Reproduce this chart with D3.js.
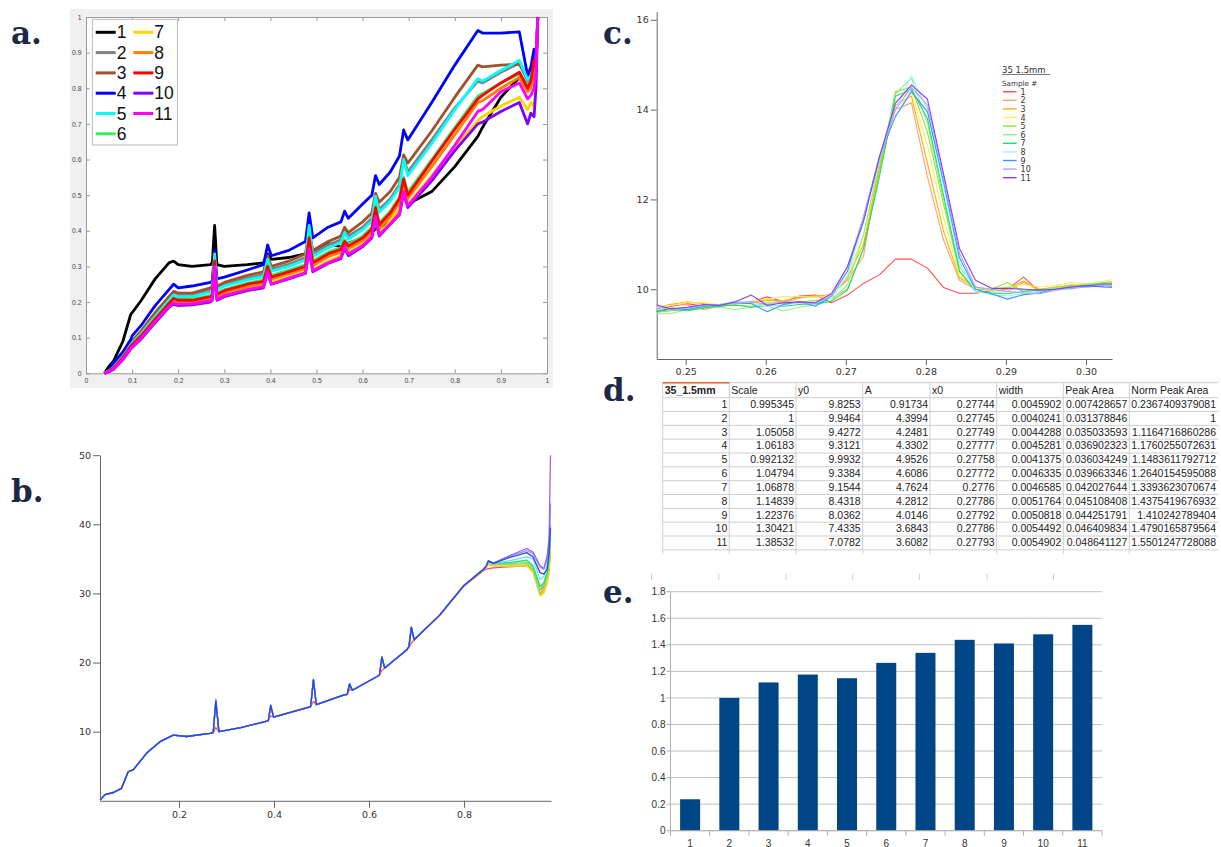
<!DOCTYPE html>
<html><head><meta charset="utf-8">
<script src="https://cdn.jsdelivr.net/npm/d3@7"></script>
<style>body{margin:0;background:#fff}svg{display:block}</style>
</head><body><svg id="chart" width="1221" height="847"></svg>
<script>
// ================= DATA =================
const sampleIds = [1,2,3,4,5,6,7,8,9,10,11];

// ---- panel a: normalised spectra (x grid shared) ----
const xA = [0.04,0.05,0.06,0.08,0.097,0.10,0.12,0.15,0.18,0.19,0.20,0.23,0.27,0.274,0.279,0.284,0.30,0.35,0.385,0.394,0.402,0.44,0.476,0.484,0.492,0.525,0.553,0.561,0.569,0.60,0.62,0.628,0.636,0.66,0.68,0.689,0.698,0.75,0.80,0.85,0.86,0.90,0.94,0.958,0.965,0.972,0.976,0.98];
const a1  = [0,0.02,0.035,0.09,0.165,0.17,0.205,0.265,0.31,0.315,0.305,0.30,0.305,0.31,0.415,0.305,0.30,0.305,0.31,0.335,0.32,0.325,0.335,0.345,0.34,0.365,0.355,0.36,0.365,0.38,0.395,0.405,0.41,0.425,0.45,0.52,0.475,0.51,0.58,0.665,0.69,0.775,0.83,0.80,0.82,0.85,0.88,0.98];
const a2  = [0,0.007,0.018,0.048,0.082,0.087,0.115,0.165,0.208,0.222,0.218,0.218,0.232,0.237,0.332,0.238,0.248,0.267,0.277,0.325,0.292,0.306,0.325,0.405,0.336,0.36,0.375,0.40,0.385,0.41,0.435,0.50,0.46,0.49,0.53,0.605,0.565,0.655,0.745,0.82,0.815,0.845,0.87,0.82,0.84,0.86,0.88,1.0];
const a3  = [0,0.008,0.02,0.05,0.085,0.09,0.12,0.17,0.215,0.23,0.225,0.225,0.24,0.245,0.33,0.245,0.255,0.275,0.285,0.33,0.30,0.315,0.335,0.40,0.345,0.37,0.385,0.41,0.395,0.425,0.45,0.505,0.48,0.51,0.55,0.613,0.59,0.68,0.775,0.865,0.86,0.865,0.868,0.83,0.84,0.87,0.88,1.0];
const a4  = [0,0.01,0.03,0.06,0.095,0.105,0.135,0.19,0.235,0.25,0.24,0.245,0.255,0.26,0.345,0.265,0.27,0.29,0.305,0.36,0.33,0.345,0.37,0.45,0.38,0.41,0.425,0.455,0.435,0.475,0.50,0.555,0.53,0.565,0.61,0.683,0.655,0.76,0.865,0.962,0.955,0.955,0.958,0.835,0.86,0.91,0.85,1.0];
const a5  = [0,0.007,0.017,0.047,0.08,0.085,0.112,0.16,0.205,0.22,0.215,0.215,0.228,0.232,0.335,0.235,0.245,0.262,0.272,0.32,0.287,0.30,0.318,0.415,0.328,0.352,0.367,0.395,0.377,0.403,0.427,0.497,0.452,0.483,0.522,0.60,0.555,0.645,0.74,0.827,0.82,0.85,0.878,0.825,0.835,0.86,0.875,1.0];
const a6  = [0,0.006,0.016,0.045,0.077,0.082,0.108,0.155,0.198,0.212,0.208,0.208,0.218,0.222,0.32,0.225,0.235,0.253,0.262,0.305,0.275,0.29,0.305,0.385,0.315,0.34,0.352,0.375,0.362,0.385,0.41,0.47,0.422,0.455,0.495,0.55,0.508,0.60,0.69,0.778,0.785,0.815,0.84,0.81,0.82,0.85,0.87,1.0];
const a7  = [0,0.004,0.012,0.04,0.071,0.075,0.10,0.145,0.188,0.20,0.196,0.196,0.205,0.21,0.30,0.212,0.22,0.238,0.245,0.29,0.255,0.27,0.285,0.355,0.29,0.315,0.33,0.355,0.34,0.362,0.388,0.44,0.39,0.428,0.46,0.515,0.475,0.555,0.635,0.71,0.72,0.75,0.775,0.74,0.76,0.75,0.80,1.0];
const a8  = [0,0.005,0.014,0.042,0.074,0.078,0.103,0.148,0.192,0.205,0.20,0.20,0.21,0.215,0.31,0.217,0.226,0.244,0.252,0.295,0.264,0.279,0.294,0.37,0.302,0.327,0.34,0.362,0.35,0.372,0.398,0.455,0.405,0.44,0.478,0.535,0.49,0.58,0.67,0.76,0.765,0.80,0.83,0.79,0.80,0.84,0.86,1.0];
const a9  = [0,0.006,0.015,0.044,0.076,0.08,0.106,0.152,0.196,0.21,0.205,0.205,0.215,0.22,0.315,0.222,0.232,0.25,0.258,0.30,0.27,0.285,0.30,0.38,0.31,0.335,0.348,0.37,0.357,0.38,0.405,0.465,0.417,0.45,0.49,0.545,0.50,0.595,0.685,0.77,0.78,0.815,0.845,0.80,0.82,0.88,0.86,1.0];
const a10 = [0,0.004,0.011,0.038,0.068,0.072,0.097,0.142,0.185,0.195,0.19,0.192,0.20,0.205,0.295,0.205,0.215,0.232,0.24,0.282,0.25,0.265,0.28,0.345,0.285,0.308,0.322,0.35,0.33,0.355,0.38,0.435,0.385,0.418,0.445,0.505,0.465,0.54,0.625,0.70,0.705,0.735,0.76,0.70,0.73,0.72,0.80,1.0];
const a11 = [0,0.005,0.012,0.04,0.07,0.074,0.10,0.145,0.188,0.197,0.194,0.195,0.203,0.207,0.30,0.208,0.218,0.235,0.243,0.285,0.25,0.267,0.282,0.35,0.288,0.31,0.325,0.355,0.335,0.358,0.384,0.44,0.388,0.42,0.448,0.51,0.47,0.55,0.64,0.735,0.74,0.79,0.815,0.77,0.78,0.80,0.84,1.0];
const ticksA = [0,0.1,0.2,0.3,0.4,0.5,0.6,0.7,0.8,0.9,1];
const colorsA = ['#000000','#808080','#a0522d','#0000ff','#00ffff','#33ee66','#ffd700','#ff8000','#ff0000','#7f00ff','#ff00ff'];

// ---- panel b: raw spectra ----
const xB = [0.034,0.044,0.062,0.079,0.093,0.104,0.132,0.16,0.188,0.216,0.265,0.272,0.2775,0.284,0.33,0.381,0.388,0.393,0.399,0.469,0.477,0.483,0.489,0.546,0.554,0.559,0.565,0.616,0.622,0.627,0.633,0.679,0.684,0.689,0.695,0.749,0.799,0.841,0.847,0.851,0.862,0.90,0.932,0.945,0.96,0.968,0.975,0.979,0.982];
const b1  = [0.1,0.9,1.2,1.8,4.2,4.5,6.9,8.55,9.5,9.3,9.75,9.85,10.6,10.0,10.6,11.45,11.6,12.3,12.1,13.5,13.6,14.4,13.9,15.3,15.4,16.1,16.0,17.95,18.2,18.9,19.2,21.8,22.2,22.8,23.3,26.8,31.0,33.3,33.5,33.6,33.7,33.9,34.0,33.5,30.5,31.0,32.5,34.0,37.0];
const b2  = [0.1,0.9,1.2,1.8,4.2,4.5,6.9,8.55,9.5,9.3,9.75,9.85,14.15,10.0,10.6,11.45,11.6,13.6,12.1,13.45,13.6,17.2,13.9,15.3,15.4,16.7,16.0,17.95,18.2,20.6,19.2,21.8,22.3,24.8,23.3,26.9,31.1,33.4,33.7,34.2,34.0,33.9,34.0,33.3,30.0,30.5,32.0,33.5,36.0];
const b3  = [0.1,0.9,1.2,1.8,4.2,4.5,6.9,8.55,9.5,9.3,9.75,9.85,14.3,10.0,10.6,11.45,11.6,13.7,12.1,13.45,13.6,17.3,13.9,15.3,15.4,16.8,16.0,17.95,18.2,20.7,19.2,21.8,22.3,24.9,23.3,26.9,31.1,33.4,33.8,34.3,34.1,34.0,34.1,33.2,29.8,30.2,31.5,33.0,36.5];
const b4  = [0.1,0.9,1.2,1.8,4.2,4.5,6.9,8.55,9.5,9.3,9.75,9.85,14.4,10.0,10.6,11.45,11.6,13.7,12.1,13.45,13.6,17.4,13.9,15.3,15.4,16.8,16.0,17.95,18.2,20.7,19.2,21.8,22.3,25.0,23.3,26.9,31.1,33.5,33.9,34.4,34.1,34.0,34.0,33.0,29.6,30.0,31.5,34.0,38.0];
const b5  = [0.1,0.9,1.2,1.8,4.2,4.5,6.9,8.55,9.5,9.3,9.75,9.85,14.5,10.0,10.6,11.45,11.6,13.8,12.1,13.45,13.6,17.5,13.9,15.3,15.4,16.9,16.0,17.95,18.2,20.8,19.2,21.8,22.3,25.1,23.3,26.9,31.1,33.5,33.9,34.5,34.2,34.2,34.3,33.5,30.0,30.8,32.5,35.0,38.0];
const b6  = [0.1,0.9,1.2,1.8,4.2,4.5,6.9,8.55,9.5,9.3,9.75,9.85,14.7,10.0,10.6,11.45,11.6,13.8,12.1,13.45,13.6,17.6,13.9,15.3,15.4,16.9,16.0,17.95,18.2,20.9,19.2,21.8,22.3,25.2,23.3,26.9,31.1,33.5,34.0,34.6,34.3,34.3,34.5,33.8,30.5,31.5,33.0,35.0,39.0];
const b7  = [0.1,0.9,1.2,1.8,4.2,4.5,6.9,8.55,9.5,9.3,9.75,9.85,14.45,10.0,10.6,11.45,11.6,13.8,12.1,13.45,13.6,17.5,13.9,15.3,15.4,16.9,16.0,17.95,18.2,20.8,19.2,21.8,22.3,25.1,23.3,26.9,31.1,33.5,34.0,34.6,34.3,34.5,34.8,34.0,31.0,31.5,33.0,35.0,40.0];
const b8  = [0.1,0.9,1.2,1.8,4.2,4.5,6.9,8.55,9.5,9.3,9.75,9.85,14.75,10.0,10.6,11.45,11.6,13.9,12.1,13.45,13.6,17.6,13.9,15.3,15.4,17.0,16.0,17.95,18.2,20.9,19.2,21.8,22.3,25.2,23.3,26.9,31.1,33.5,34.0,34.7,34.3,34.8,35.3,35.0,32.0,32.5,34.0,37.0,42.0];
const b9  = [0.1,0.9,1.2,1.8,4.2,4.5,6.9,8.55,9.5,9.3,9.75,9.85,14.4,10.0,10.6,11.45,11.6,13.8,12.1,13.47,13.6,17.5,13.9,15.3,15.4,16.9,16.0,17.95,18.2,20.8,19.2,21.8,22.3,25.1,23.3,26.9,31.1,33.5,34.0,34.7,34.35,35.3,35.9,35.3,33.0,32.8,33.5,36.0,39.5];
const b10 = [0.1,0.9,1.2,1.8,4.2,4.5,6.9,8.55,9.5,9.3,9.75,9.85,14.5,10.0,10.6,11.45,11.6,13.8,12.1,13.45,13.6,17.5,13.9,15.3,15.4,16.9,16.0,17.95,18.2,20.8,19.2,21.8,22.3,25.1,23.3,26.9,31.1,33.5,34.0,34.7,34.4,35.5,36.2,35.8,33.8,33.5,35.0,37.0,43.0];
const b11 = [0.1,0.9,1.2,1.8,4.2,4.5,6.9,8.55,9.5,9.3,9.75,9.85,14.55,10.0,10.6,11.45,11.6,13.8,12.1,13.45,13.6,17.5,13.9,15.3,15.4,16.9,16.0,17.95,18.2,20.8,19.2,21.8,22.3,25.1,23.3,26.9,31.1,33.5,34.0,34.7,34.4,35.6,36.5,36.0,34.0,33.6,35.5,38.0,50.0];
const ticksBx = [0.2,0.4,0.6,0.8];
const ticksBy = [10,20,30,40,50];

// ---- panel c: zoom on the 0.278 peak ----
const xC = [0.2462,0.2482,0.2502,0.2522,0.2542,0.2562,0.2582,0.2602,0.2622,0.2642,0.2662,0.2682,0.2702,0.2722,0.2742,0.2762,0.2782,0.2802,0.2822,0.2842,0.2862,0.2882,0.2902,0.2922,0.2942,0.2962,0.2982,0.3002,0.3022,0.3042];
const c1  = [9.55,9.62,9.68,9.62,9.66,9.70,9.72,9.83,9.72,9.85,9.87,9.70,9.87,10.13,10.32,10.67,10.67,10.47,10.04,9.91,9.91,9.97,10.00,10.27,9.95,10.02,10.05,10.08,10.12,10.10];
const c2  = [9.58,9.67,9.65,9.55,9.62,9.68,9.70,9.78,9.70,9.80,9.85,9.88,10.20,10.73,12.80,14.00,14.15,12.50,11.10,10.20,10.00,9.98,9.95,10.15,9.98,10.02,10.10,10.05,10.15,10.12];
const c3  = [9.52,9.66,9.72,9.68,9.64,9.72,9.68,9.75,9.74,9.82,9.86,9.84,10.25,11.00,12.70,14.10,14.30,12.80,11.30,10.25,10.05,9.96,10.00,10.18,10.00,10.05,10.08,10.10,10.12,10.15];
const c4  = [9.60,9.64,9.70,9.70,9.66,9.68,9.74,9.78,9.84,9.84,9.82,9.86,10.30,11.20,12.90,14.20,14.40,13.20,11.60,10.30,10.05,9.95,10.05,10.10,10.05,10.08,10.15,10.12,10.18,10.25];
const c5  = [9.48,9.52,9.55,9.60,9.62,9.65,9.62,9.70,9.68,9.72,9.75,9.80,10.00,10.90,12.60,14.40,14.50,13.50,11.90,10.40,10.00,10.00,10.15,9.95,10.00,10.02,10.08,10.10,10.15,10.18];
const c6  = [9.45,9.46,9.55,9.58,9.60,9.55,9.60,9.62,9.52,9.60,9.65,9.74,10.10,11.20,12.80,14.35,14.70,13.70,12.00,10.50,10.05,9.98,10.05,10.00,9.95,10.05,10.00,10.12,10.08,10.12];
const c7  = [9.50,9.55,9.52,9.58,9.62,9.65,9.60,9.66,9.62,9.66,9.68,9.73,9.98,10.90,12.50,14.30,14.45,13.80,12.10,10.40,9.95,9.92,9.90,9.95,9.98,10.00,10.05,10.08,10.10,10.12];
const c8  = [9.55,9.58,9.60,9.62,9.66,9.74,9.68,9.62,9.65,9.70,9.72,9.80,10.30,11.50,12.90,14.00,14.75,14.00,12.30,10.60,9.95,9.88,9.85,9.90,9.95,10.00,10.05,10.05,10.10,10.10];
const c9  = [9.50,9.58,9.55,9.62,9.64,9.70,9.68,9.50,9.66,9.72,9.62,9.85,10.40,11.60,12.95,13.85,14.40,13.95,12.40,10.70,10.00,9.90,9.78,9.88,9.92,10.00,10.05,10.08,10.12,10.10];
const c10 = [9.62,9.55,9.58,9.64,9.66,9.70,9.72,9.66,9.72,9.70,9.68,9.85,10.50,11.60,12.90,14.00,14.50,14.10,12.50,10.80,10.05,10.00,9.95,9.92,9.90,9.98,10.02,10.05,10.08,10.05];
const c11 = [9.66,9.56,9.60,9.66,9.64,9.72,9.87,9.64,9.70,9.72,9.70,9.90,10.50,11.50,12.95,14.14,14.55,14.23,12.58,10.91,10.20,10.02,10.02,10.00,9.98,10.00,10.05,10.08,10.05,10.04];
const ticksCx = [0.25,0.26,0.27,0.28,0.29,0.30];
const ticksCy = [10,12,14,16];
const colorsC = ['#ff5050','#ffa07a','#ffb000','#f4f060','#99e033','#90ee90','#22dd66','#a0f0ff','#3399ff','#a8a8ff','#8a3ff0'];
const colorsB = ['#ff5050','#ffa07a','#ffb000','#e8e040','#99e033','#80e080','#22dd66','#60e0ff','#2448e8','#a890ff','#9a60f0'];

// ---- panel d: fit table ----
const tableHeader = ['35_1.5mm','Scale','y0','A','x0','width','Peak Area','Norm Peak Area'];
const scaleCol = [0.995345,1,1.05058,1.06183,0.992132,1.04794,1.06878,1.14839,1.22376,1.30421,1.38532];
const y0Col = [9.8253,9.9464,9.4272,9.3121,9.9932,9.3384,9.1544,8.4318,8.0362,7.4335,7.0782];
const aCol = [0.91734,4.3994,4.2481,4.3302,4.9526,4.6086,4.7624,4.2812,4.0146,3.6843,3.6082];
const x0Col = [0.27744,0.27745,0.27749,0.27777,0.27758,0.27772,0.2776,0.27786,0.27792,0.27786,0.27793];
const widthCol = [0.0045902,0.0040241,0.0044288,0.0045281,0.0041375,0.0046335,0.0046585,0.0051764,0.0050818,0.0054492,0.0054902];
const peakAreaCol = [0.007428657,0.031378846,0.035033593,0.036902323,0.036034249,0.039663346,0.042027644,0.045108408,0.044251791,0.046409834,0.048641127];
const normPeakArea = [0.2367409379081,1,1.1164716860286,1.1760255072631,1.1483611792712,1.2640154595088,1.3393623070674,1.4375419676932,1.410242789404,1.4790165879564,1.5501247728088];

// ---- panel e ----
const ticksEy = [0,0.2,0.4,0.6,0.8,1,1.2,1.4,1.6,1.8];

// ================= DRAW =================
const svg = d3.select('#chart');
const labelColor = '#1b2947';
function panelLabel(t, x, y){
  svg.append('text').attr('x',x).attr('y',y).text(t)
    .attr('font-family','DejaVu Serif').attr('font-weight','bold')
    .attr('font-size',31).attr('fill',labelColor);
}
function styleAxis(g, stroke, font, size, fill){
  g.attr('font-family',font).attr('font-size',size);
  g.select('.domain').attr('stroke',stroke);
  g.selectAll('.tick line').attr('stroke',stroke);
  g.selectAll('.tick text').attr('fill',fill);
}

// ---------- Panel a ----------
(function(){
  const seriesA = [a1,a2,a3,a4,a5,a6,a7,a8,a9,a10,a11];
  const L=86,R=547,T=17,B=373.3;
  const x = d3.scaleLinear().domain([0,1]).range([L,R]);
  const y = d3.scaleLinear().domain([0,1]).range([B,T]);
  svg.append('rect').attr('x',70).attr('y',9).attr('width',483).attr('height',379).attr('fill','#f0f0f0');
  svg.append('rect').attr('x',L).attr('y',T).attr('width',R-L).attr('height',B-T).attr('fill','#fff');
  const ax = '#9a9a9a';
  const gb = svg.append('g').attr('transform',`translate(0,${B})`)
    .call(d3.axisBottom(x).tickValues(ticksA).tickFormat(d=>String(d)).tickSize(-4).tickPadding(5).tickSizeOuter(0));
  styleAxis(gb, ax, 'Liberation Sans', 6.8, '#444');
  const gt = svg.append('g').attr('transform',`translate(0,${T})`)
    .call(d3.axisTop(x).tickValues(ticksA).tickFormat('').tickSize(-4).tickSizeOuter(0));
  styleAxis(gt, ax, 'Liberation Sans', 6.8, '#444');
  const gl = svg.append('g').attr('transform',`translate(${L},0)`)
    .call(d3.axisLeft(y).tickValues(ticksA).tickFormat(d=>String(d)).tickSize(-4).tickPadding(4.5).tickSizeOuter(0));
  styleAxis(gl, ax, 'Liberation Sans', 6.8, '#444');
  const gr = svg.append('g').attr('transform',`translate(${R},0)`)
    .call(d3.axisRight(y).tickValues(ticksA).tickFormat('').tickSize(-4).tickSizeOuter(0));
  styleAxis(gr, ax, 'Liberation Sans', 6.8, '#444');

  const line = d3.line().x((d,i)=>x(xA[i])).y(d=>y(d));
  seriesA.forEach((s,k)=>{
    svg.append('path').datum(s).attr('d',line).attr('fill','none')
      .attr('stroke',colorsA[k]).attr('stroke-width',2.8).attr('stroke-linejoin','round');
  });
  // legend
  const lg = svg.append('g');
  lg.append('rect').attr('x',92.3).attr('y',19.3).attr('width',85).attr('height',125.7)
    .attr('fill','#fff').attr('stroke','#aaa').attr('stroke-width',0.8);
  sampleIds.forEach((id,k)=>{
    const col = k<6?0:1, row = k<6?k:k-6;
    const cy = 32.3 + row*20.3;
    const x0 = col===0?95.7:133.3;
    lg.append('line').attr('x1',x0).attr('x2',x0+20).attr('y1',cy).attr('y2',cy)
      .attr('stroke',colorsA[k]).attr('stroke-width',3);
    lg.append('text').attr('x',x0+21).attr('y',cy+6).text(id)
      .attr('font-family','Liberation Sans').attr('font-size',17.5).attr('fill','#111');
  });
  panelLabel('a.', 11, 44);
})();

// ---------- Panel b ----------
(function(){
  const seriesB = [b1,b2,b3,b4,b5,b6,b7,b8,b9,b10,b11];
  const L=100,R=551,B=800.8,T=455.2;
  const x = d3.scaleLinear().domain([0.0337,0.983]).range([L,R]);
  const y = d3.scaleLinear().domain([0,50]).range([B,T]);
  const ax='#666';
  const gx = svg.append('g').attr('transform',`translate(0,${B})`)
    .call(d3.axisBottom(x).tickValues(ticksBx).tickFormat(d3.format('.1f')).tickSize(7).tickPadding(3).tickSizeOuter(0));
  styleAxis(gx, ax, 'DejaVu Sans', 9.5, '#333');
  const gy = svg.append('g').attr('transform',`translate(${L},0)`)
    .call(d3.axisLeft(y).tickValues(ticksBy).tickSize(7).tickPadding(2).tickSizeOuter(0));
  styleAxis(gy, ax, 'DejaVu Sans', 9.5, '#333');
  const line = d3.line().x((d,i)=>x(xB[i])).y(d=>y(d));
  const order = [0,1,2,3,4,5,6,7,9,10,8];
  order.forEach(k=>{
    svg.append('path').datum(seriesB[k]).attr('d',line).attr('fill','none')
      .attr('stroke',colorsB[k]).attr('stroke-width',1.3).attr('stroke-linejoin','round');
  });
  panelLabel('b.', 11, 502);
})();

// ---------- Panel c ----------
(function(){
  const seriesC = [c1,c2,c3,c4,c5,c6,c7,c8,c9,c10,c11];
  const L=656.7,R=1112,B=359,T=11.7;
  const x = d3.scaleLinear().domain([0.24638,0.30325]).range([L,R]);
  const y = d3.scaleLinear().domain([8.447,16.18]).range([B,T]);
  const ax='#666';
  const gx = svg.append('g').attr('transform',`translate(0,${B})`)
    .call(d3.axisBottom(x).tickValues(ticksCx).tickFormat(d3.format('.2f')).tickSize(6).tickPadding(3).tickSizeOuter(0));
  styleAxis(gx, ax, 'DejaVu Sans', 9.5, '#333');
  const gy = svg.append('g').attr('transform',`translate(${L},0)`)
    .call(d3.axisLeft(y).tickValues(ticksCy).tickSize(6).tickPadding(2).tickSizeOuter(0));
  styleAxis(gy, ax, 'DejaVu Sans', 9.5, '#333');
  svg.append('clipPath').attr('id','clipC').append('rect').attr('x',L).attr('y',T).attr('width',R-L).attr('height',B-T);
  const gl = svg.append('g').attr('clip-path','url(#clipC)');
  const line = d3.line().x((d,i)=>x(xC[i])).y(d=>y(d));
  seriesC.forEach((s,k)=>{
    gl.append('path').datum(s).attr('d',line).attr('fill','none')
      .attr('stroke',colorsC[k]).attr('stroke-width',1.1).attr('stroke-linejoin','round');
  });
  // legend
  const lg = svg.append('g').attr('font-family','DejaVu Sans').attr('fill','#333');
  lg.append('text').attr('x',1002).attr('y',72.5).text('35 1.5mm').attr('font-size',8.5);
  lg.append('line').attr('x1',1002).attr('x2',1050).attr('y1',74.5).attr('y2',74.5).attr('stroke','#444').attr('stroke-width',0.7);
  lg.append('text').attr('x',1002).attr('y',85.5).text('Sample #').attr('font-size',7.2);
  sampleIds.forEach((id,k)=>{
    const cy = 91.7 + k*8.6;
    lg.append('line').attr('x1',1003).attr('x2',1016.6).attr('y1',cy).attr('y2',cy)
      .attr('stroke',colorsC[k]).attr('stroke-width',1.4);
    lg.append('text').attr('x',1020.6).attr('y',cy+3).text(id).attr('font-size',8);
  });
  panelLabel('c.', 603, 44);
})();

// ---------- Panel d ----------
(function(){
  const colX = [662.7,729.3,796,862.7,930,996.7,1063.3,1129.3,1218];
  const top = 382.7, hdrB = 397.7, rh = 13.83;
  const cols = [sampleIds, scaleCol, y0Col, aCol, x0Col, widthCol, peakAreaCol, normPeakArea];
  const nRows = sampleIds.length;
  const bottom = hdrB + nRows*rh;
  const g = svg.append('g');
  const grid = '#cfcfcf';
  // horizontal lines
  const hy = [top, hdrB];
  for(let i=1;i<=nRows;i++) hy.push(hdrB+i*rh);
  hy.forEach(yy=>g.append('line').attr('x1',colX[0]).attr('x2',colX[colX.length-1]).attr('y1',yy).attr('y2',yy).attr('stroke',grid).attr('stroke-width',1));
  colX.forEach((xx,i)=>{ if(i<colX.length-1) g.append('line').attr('x1',xx).attr('x2',xx).attr('y1',top).attr('y2',bottom+4).attr('stroke',grid).attr('stroke-width',1); });
  g.append('line').attr('x1',colX[0]).attr('x2',colX[1]).attr('y1',top).attr('y2',top).attr('stroke','#e0663a').attr('stroke-width',1.6);
  tableHeader.forEach((h,i)=>{
    g.append('text').attr('x',colX[i]+2).attr('y',hdrB-3.6).text(h)
      .attr('font-family','Liberation Sans').attr('font-size',10.5).attr('fill','#222')
      .attr('font-weight', i===0?'bold':'normal');
  });
  cols.forEach((col,ci)=>{
    col.forEach((v,ri)=>{
      g.append('text').attr('x',colX[ci+1]-2).attr('y',hdrB+(ri+1)*rh-3.6).text(String(v))
        .attr('text-anchor','end').attr('font-family','Liberation Sans').attr('font-size',10.5).attr('fill','#222');
    });
  });
  panelLabel('d.', 603, 401);
})();

// ---------- Panel e ----------
(function(){
  const L=670.5,R=1102,B=830.7,T=591.7;
  const x = d3.scaleBand().domain(sampleIds).range([L,R]).paddingInner(0.49).paddingOuter(0.245);
  const y = d3.scaleLinear().domain([0,1.8]).range([B,T]);
  const g = svg.append('g');
  // faint column ticks above chart (spreadsheet remnant)
  [651.5,718.8,786,852.7,919.6,987,1053.5].forEach(xx=>g.append('line').attr('x1',xx).attr('x2',xx).attr('y1',574).attr('y2',580).attr('stroke','#d0d0d0'));
  ticksEy.forEach(t=>{
    g.append('line').attr('x1',L).attr('x2',R).attr('y1',y(t)).attr('y2',y(t)).attr('stroke','#c0c0c0').attr('stroke-width',1);
    g.append('line').attr('x1',L-4).attr('x2',L).attr('y1',y(t)).attr('y2',y(t)).attr('stroke','#b0b0b0');
    g.append('text').attr('x',L-5).attr('y',y(t)+3.6).text(String(t)).attr('text-anchor','end')
      .attr('font-family','Liberation Sans').attr('font-size',10).attr('fill','#333');
  });
  g.append('line').attr('x1',L).attr('x2',L).attr('y1',T).attr('y2',B).attr('stroke','#b0b0b0');
  g.selectAll('rect.bar').data(normPeakArea).enter().append('rect')
    .attr('x',(d,i)=>x(sampleIds[i])).attr('width',x.bandwidth())
    .attr('y',d=>y(d)).attr('height',d=>B-y(d)).attr('fill','#004586');
  g.append('line').attr('x1',L).attr('x2',R).attr('y1',B).attr('y2',B).attr('stroke','#b0b0b0');
  const step = x.step();
  for(let i=0;i<=sampleIds.length;i++){
    const xx = L + i*step;
    g.append('line').attr('x1',xx).attr('x2',xx).attr('y1',B).attr('y2',B+5).attr('stroke','#b0b0b0');
  }
  sampleIds.forEach(id=>{
    g.append('text').attr('x',x(id)+x.bandwidth()/2).attr('y',846.5).text(id).attr('text-anchor','middle')
      .attr('font-family','Liberation Sans').attr('font-size',10).attr('fill','#333');
  });
  panelLabel('e.', 603, 603);
})();
</script></body></html>
